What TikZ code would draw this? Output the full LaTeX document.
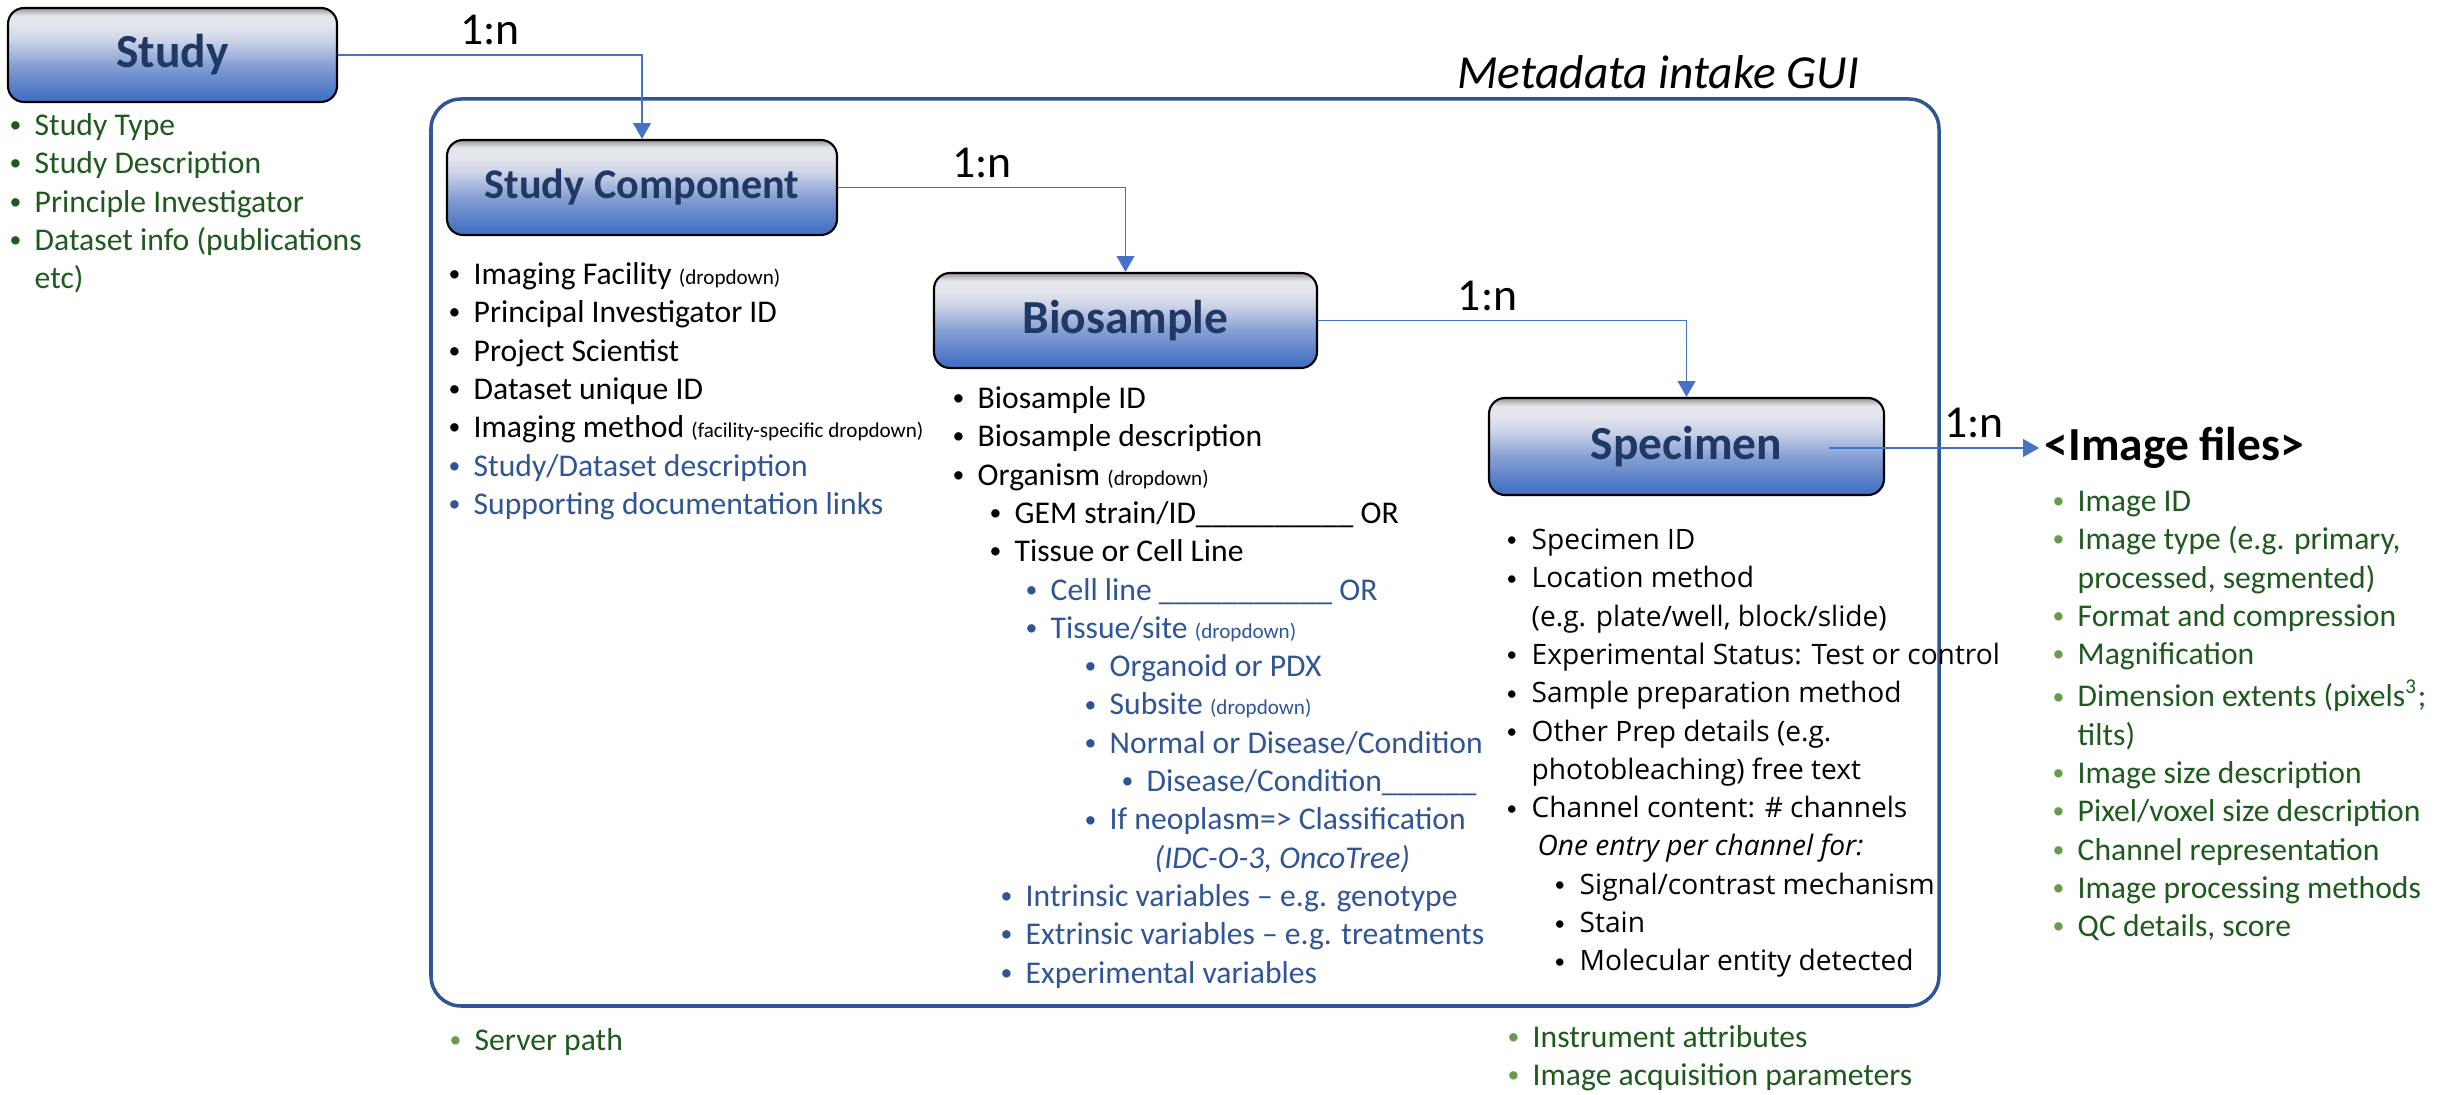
\documentclass[tikz,border=0pt]{standalone}
\usepackage{fontspec}
\setmainfont{Carlito}
\newfontfamily\segoe{Open Sans}
\usepackage{xcolor}
\usepackage{graphicx}
\usetikzlibrary{arrows.meta}
\usetikzlibrary{positioning}

\definecolor{navy}{RGB}{31,56,100}
\definecolor{linkblue}{RGB}{68,114,196}
\definecolor{guiblue}{RGB}{47,85,151}
\definecolor{txtblue}{RGB}{47,85,151}
\definecolor{txtgreen}{RGB}{30,90,30}
\definecolor{bulgreen}{RGB}{105,155,75}
\definecolor{shA}{RGB}{70,115,196}
\definecolor{shB}{RGB}{135,160,212}
\definecolor{shC}{RGB}{205,212,232}
\definecolor{shD}{RGB}{228,230,237}
\definecolor{shE}{RGB}{150,150,150}

\pgfdeclareverticalshading{boxshade}{100bp}{color(0bp)=(shA); color(28bp)=(shA); color(45bp)=(shB); color(58bp)=(shC); color(66bp)=(shD); color(71bp)=(shD); color(75bp)=(shE); color(100bp)=(shE)}

\newcommand{\bitem}[3]{\noindent\strut\hspace*{#1}\makebox[2.5mm][l]{\textcolor{#2}{\normalfont\raisebox{0.09em}{\scalebox{0.75}{\textbullet}}}}#3}
\newcommand{\cont}[1]{\noindent\strut\hspace*{#1}}
\newcommand{\blu}[1]{\textcolor{txtblue}{#1}}
\newcommand{\dropnote}[1]{{\fontsize{6}{10.9}\selectfont #1}}

\begin{document}
\begin{tikzpicture}[
    ent/.style={draw=black, line width=0.6pt, rounded corners=0.16cm, shade, shading=boxshade,
        text=navy, inner sep=0pt, minimum height=0.95cm, font=\fontsize{13.5}{16}\selectfont\bfseries},
    link/.style={draw=linkblue, line width=0.55pt, -{Triangle[length=4.5pt,width=5pt]}},
    card/.style={font=\fontsize{13}{15}\selectfont, inner sep=2.5pt},
    lst/.style={anchor=north west, inner sep=0pt, align=left, font=\fontsize{9}{10.9}\selectfont},
    grn/.style={lst, text=txtgreen}
    ]
    \useasboundingbox (0,0) rectangle (24.58,-10.95);

    % metadata intake frame
    \draw[guiblue, line width=1pt, rounded corners=0.3cm] (4.31,-0.99) rectangle (19.39,-10.06);
    \node[font=\fontsize{13.5}{16}\selectfont\itshape] (guilabel) at (16.58,-0.72) {Metadata intake GUI};

    % entities
    \node[ent, minimum width=3.29cm, minimum height=0.94cm] (study) at (1.725,-0.55) {Study};
    \node[ent, minimum width=3.90cm, font=\fontsize{12}{14}\selectfont\bfseries] (comp) at (6.42,-1.875) {Study Component};
    \node[ent, minimum width=3.83cm] (bio) at (11.255,-3.205) {Biosample};
    \node[ent, minimum width=3.95cm, minimum height=0.97cm] (spec) at (16.865,-4.465) {Specimen};
    \node[anchor=west, inner sep=0.5mm, font=\fontsize{13.5}{16}\selectfont\bfseries] (imgf) at (20.39,-4.48) {<Image files>};
    \coordinate (specout) at (18.29,-4.48);

    % 1:n links
    \draw[link] (study.east) -| node[card, above, pos=0.25] (n1) {1:n} (comp.north);
    \draw[link] (comp.east) -| node[card, above, pos=0.25] (n2) {1:n} (bio.north);
    \draw[link] (bio.east) -| node[card, above, pos=0.23] (n3) {1:n} (spec.north);
    \draw[link] (specout) -- node[card, above, pos=0.69] (n4) {1:n} (imgf.west);

    % attribute lists
    \node[grn] (studylist) at (0.09,-1.08) {%
    \bitem{0cm}{txtgreen}{Study Type}\\
    \bitem{0cm}{txtgreen}{Study Description}\\
    \bitem{0cm}{txtgreen}{Principle Investigator}\\
    \bitem{0cm}{txtgreen}{Dataset info (publications}\\
    \cont{2.5mm}etc)};

    \node[lst] (complist) at (4.48,-2.57) {%
    \bitem{0cm}{black}{Imaging Facility \dropnote{(dropdown)}}\\
    \bitem{0cm}{black}{Principal Investigator ID}\\
    \bitem{0cm}{black}{Project Scientist}\\
    \bitem{0cm}{black}{Dataset unique ID}\\
    \bitem{0cm}{black}{Imaging method \dropnote{(facility-specific dropdown)}}\\
    \bitem{0cm}{txtblue}{\blu{Study/Dataset description}}\\
    \bitem{0cm}{txtblue}{\blu{Supporting documentation links}}};

    \node[lst] (biolist) at (9.52,-3.81) {%
    \bitem{0cm}{black}{Biosample ID}\\
    \bitem{0cm}{black}{Biosample description}\\
    \bitem{0cm}{black}{Organism \dropnote{(dropdown)}}\\
    \bitem{0.37cm}{black}{GEM strain/ID\_\_\_\_\_\_\_\_\_\_ OR}\\
    \bitem{0.37cm}{black}{Tissue or Cell Line}\\
    \bitem{0.73cm}{txtblue}{\blu{Cell line \_\_\_\_\_\_\_\_\_\_\_ OR}}\\
    \bitem{0.73cm}{txtblue}{\blu{Tissue/site \dropnote{(dropdown)}}}\\
    \bitem{1.32cm}{txtblue}{\blu{Organoid or PDX}}\\
    \bitem{1.32cm}{txtblue}{\blu{Subsite \dropnote{(dropdown)}}}\\
    \bitem{1.32cm}{txtblue}{\blu{Normal or Disease/Condition}}\\
    \bitem{1.69cm}{txtblue}{\blu{Disease/Condition\_\_\_\_\_\_}}\\
    \bitem{1.32cm}{txtblue}{\blu{If neoplasm=> Classification}}\\
    \cont{2.02cm}\blu{\textit{(IDC-O-3, OncoTree)}}\\
    \bitem{0.48cm}{txtblue}{\blu{Intrinsic variables – e.g. genotype}}\\
    \bitem{0.48cm}{txtblue}{\blu{Extrinsic variables – e.g. treatments}}\\
    \bitem{0.48cm}{txtblue}{\blu{Experimental variables}}};

    \node[lst, font=\segoe\fontsize{8}{10.9}\selectfont] (speclist) at (15.06,-5.22) {%
    \bitem{0cm}{black}{Specimen ID}\\
    \bitem{0cm}{black}{Location method}\\
    \cont{2.5mm}(e.g. plate/well, block/slide)\\
    \bitem{0cm}{black}{Experimental Status: Test or control}\\
    \bitem{0cm}{black}{Sample preparation method}\\
    \bitem{0cm}{black}{Other Prep details (e.g.}\\
    \cont{2.5mm}photobleaching) free text\\
    \bitem{0cm}{black}{Channel content: \# channels}\\
    \cont{3.1mm}\textit{One entry per channel for:}\\
    \bitem{0.48cm}{black}{Signal/contrast mechanism}\\
    \bitem{0.48cm}{black}{Stain}\\
    \bitem{0.48cm}{black}{Molecular entity detected}};

    \node[grn] (imglist) at (20.52,-4.84) {%
    \bitem{0cm}{bulgreen}{Image ID}\\
    \bitem{0cm}{bulgreen}{Image type (e.g. primary,}\\
    \cont{2.5mm}processed, segmented)\\
    \bitem{0cm}{bulgreen}{Format and compression}\\
    \bitem{0cm}{bulgreen}{Magnification}\\
    \bitem{0cm}{bulgreen}{Dimension extents (pixels\textsuperscript{3};}\\
    \cont{2.5mm}tilts)\\
    \bitem{0cm}{bulgreen}{Image size description}\\
    \bitem{0cm}{bulgreen}{Pixel/voxel size description}\\
    \bitem{0cm}{bulgreen}{Channel representation}\\
    \bitem{0cm}{bulgreen}{Image processing methods}\\
    \bitem{0cm}{bulgreen}{QC details, score}};

    \node[grn] (serverlist) at (4.49,-10.23) {\bitem{0cm}{bulgreen}{Server path}};
    \node[grn] (instlist) at (15.07,-10.20) {%
    \bitem{0cm}{bulgreen}{Instrument attributes}\\
    \bitem{0cm}{bulgreen}{Image acquisition parameters}};
\end{tikzpicture}
\end{document}
